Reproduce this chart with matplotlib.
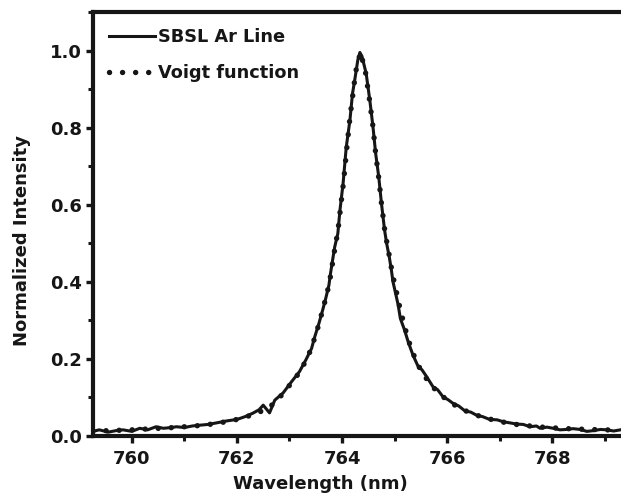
import numpy as np
import matplotlib
matplotlib.use('Agg')
import matplotlib.pyplot as plt
from matplotlib.ticker import MultipleLocator

# values
# measured SBSL argon line (solid)
wl_line = [759.26, 759.38, 759.55, 759.70, 759.83, 760.00, 760.15, 760.30, 760.46, 760.60,
           760.75, 760.85, 761.00, 761.15, 761.29, 761.45, 761.61, 761.80, 762.00, 762.15,
           762.30, 762.42, 762.50, 762.62, 762.72, 762.88, 763.04, 763.19, 763.31, 763.42,
           763.48, 763.56, 763.63, 763.69, 763.75, 763.78, 763.82, 763.86, 763.92, 763.96,
           764.02, 764.08, 764.15, 764.20, 764.24, 764.30, 764.34, 764.38, 764.46, 764.53,
           764.59, 764.64, 764.70, 764.75, 764.81, 764.85, 764.90, 764.94, 764.97, 765.02,
           765.07, 765.11, 765.19, 765.26, 765.35, 765.45, 765.52, 765.61, 765.73, 765.82,
           765.92, 766.02, 766.11, 766.22, 766.34, 766.45, 766.56, 766.68, 766.81, 766.95,
           767.07, 767.20, 767.32, 767.45, 767.58, 767.70, 767.77, 767.90, 768.02, 768.15,
           768.27, 768.40, 768.53, 768.66, 768.79, 768.92, 769.04, 769.17, 769.30]
int_line = [0.012, 0.016, 0.010, 0.014, 0.016, 0.012, 0.020, 0.016, 0.024, 0.020,
            0.022, 0.024, 0.022, 0.026, 0.028, 0.030, 0.034, 0.039, 0.043, 0.050,
            0.059, 0.068, 0.080, 0.060, 0.093, 0.112, 0.141, 0.167, 0.197, 0.227,
            0.257, 0.292, 0.326, 0.357, 0.391, 0.421, 0.456, 0.490, 0.525, 0.585,
            0.655, 0.749, 0.819, 0.889, 0.922, 0.975, 0.995, 0.985, 0.940, 0.870,
            0.801, 0.733, 0.671, 0.604, 0.534, 0.499, 0.464, 0.430, 0.400, 0.370,
            0.339, 0.305, 0.275, 0.244, 0.210, 0.180, 0.172, 0.154, 0.128, 0.120,
            0.102, 0.094, 0.085, 0.078, 0.065, 0.062, 0.054, 0.050, 0.043, 0.042,
            0.037, 0.034, 0.031, 0.030, 0.024, 0.026, 0.020, 0.023, 0.020, 0.016,
            0.017, 0.019, 0.017, 0.012, 0.014, 0.017, 0.016, 0.013, 0.016]

# Voigt fit (dotted)
wl_fit = [759.26, 759.60, 760.00, 760.40, 760.80, 761.20, 761.60, 762.00, 762.30, 762.60,
          762.80, 763.04, 763.19, 763.31, 763.42, 763.48, 763.56, 763.63, 763.69, 763.75,
          763.79, 763.83, 763.87, 763.92, 763.97, 764.03, 764.09, 764.15, 764.21, 764.26,
          764.35, 764.44, 764.52, 764.59, 764.64, 764.70, 764.75, 764.81, 764.86, 764.91,
          764.95, 765.00, 765.05, 765.10, 765.18, 765.26, 765.35, 765.45, 765.60, 765.75,
          765.92, 766.11, 766.34, 766.56, 766.81, 767.07, 767.32, 767.58, 767.90, 768.30,
          768.70, 769.30]
int_fit = [0.013, 0.014, 0.016, 0.019, 0.022, 0.026, 0.032, 0.043, 0.055, 0.072,
           0.098, 0.138, 0.165, 0.195, 0.228, 0.255, 0.290, 0.326, 0.357, 0.391,
           0.422, 0.458, 0.492, 0.530, 0.590, 0.660, 0.745, 0.825, 0.890, 0.945,
           0.995, 0.950, 0.875, 0.801, 0.733, 0.668, 0.604, 0.537, 0.497, 0.460,
           0.428, 0.395, 0.365, 0.333, 0.290, 0.250, 0.215, 0.183, 0.150, 0.124,
           0.102, 0.083, 0.066, 0.054, 0.044, 0.036, 0.030, 0.026, 0.022, 0.019,
           0.017, 0.015]

x_ticks = [760, 762, 764, 766, 768]
y_ticks = [0.0, 0.2, 0.4, 0.6, 0.8, 1.0]

plt.rcParams['font.family'] = ['DejaVu Sans']
plt.rcParams['font.weight'] = 'bold'

ink = '#161616'

fig = plt.figure(figsize=(6.21, 4.98), dpi=100)
ax = fig.add_axes([93 / 621, 62 / 498, 528 / 621, 424 / 498])

ax.plot(wl_line, int_line, color=ink, lw=2.2, label='SBSL Ar Line')
ax.plot(wl_fit, int_fit, color=ink, lw=3.9, linestyle=(0, (0.01, 2.4)),
        dash_capstyle='round', label='Voigt function')

ax.set_xlim(759.26, 769.31)
ax.set_ylim(0, 1.1)
ax.set_xticks(x_ticks)
ax.set_yticks(y_ticks)
ax.set_yticklabels(['%.1f' % v for v in y_ticks])
ax.xaxis.set_minor_locator(MultipleLocator(1))
ax.yaxis.set_minor_locator(MultipleLocator(0.1))

for side in ['left', 'top', 'bottom']:
    ax.spines[side].set_linewidth(3.0)
    ax.spines[side].set_color(ink)
ax.spines['right'].set_visible(False)

ax.tick_params(which='major', direction='out', length=5, width=2.4, labelsize=13,
               color=ink, labelcolor=ink, top=False, right=False)
ax.tick_params(axis='x', which='major', pad=5)
ax.tick_params(axis='y', which='major', pad=3)
ax.tick_params(which='minor', direction='out', length=3.5, width=2.2,
               color=ink, top=False, right=False)

ax.set_xlabel('Wavelength (nm)', fontsize=13, fontweight='bold', color=ink)
ax.set_ylabel('Normalized Intensity', fontsize=13, fontweight='bold', color=ink)
ax.xaxis.set_label_coords(0.43, -0.092)
ax.yaxis.set_label_coords(-0.118, 0.46)

leg = ax.legend(loc='upper left', frameon=False, fontsize=12.8, handlelength=2.6,
                handletextpad=0.15, labelspacing=1.0, borderaxespad=0.3, borderpad=0.6)
for t in leg.get_texts():
    t.set_fontweight('bold')
    t.set_color(ink)

fig.savefig('out.png', dpi=100)
